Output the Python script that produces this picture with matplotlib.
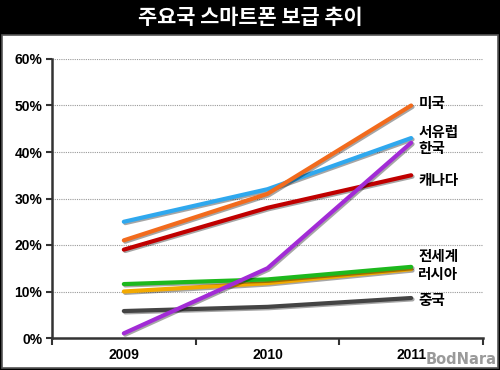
import matplotlib
matplotlib.use("Agg")
import matplotlib.pyplot as plt
import matplotlib.patheffects as pe
from matplotlib.patches import Rectangle

years = ["2009", "2010", "2011"]
series_names = ["미국", "서유럽", "한국", "캐나다", "전세계", "러시아", "중국"]
usa = [21, 31, 50]
west_europe = [25, 32, 43]
korea = [1, 15, 42]
canada = [19, 28, 35]
world = [11.6, 12.6, 15.3]
russia = [10, 11.8, 14.8]
china = [5.8, 6.7, 8.6]
colors = ["#F26B1D", "#2FA8EE", "#A22BD6", "#C00000", "#1DB81D", "#F2A900", "#444444"]
label_y = [50.5, 44.3, 40.9, 34.0, 17.6, 13.8, 8.2]
y_ticks = [0, 10, 20, 30, 40, 50, 60]
y_labels = ["0%", "10%", "20%", "30%", "40%", "50%", "60%"]
title = "주요국 스마트폰 보급 추이"

values = [usa, west_europe, korea, canada, world, russia, china]
kfont = ["Noto Sans CJK KR", "DejaVu Sans"]

W, H = 500, 370
fig = plt.figure(figsize=(W / 100, H / 100), dpi=100, facecolor="black")

# white panel
fig.patches.append(Rectangle((1.5 / W, 2 / H), 496 / W, 333 / H, transform=fig.transFigure,
                             facecolor="white", edgecolor="#555555", linewidth=1.2, zorder=-5))
fig.text(0.5, 1 - 17 / H, title, ha="center", va="center", color="white",
         fontsize=15, fontweight="bold", family=kfont)

ax = fig.add_axes([52 / W, 1 - 338 / H, 431 / W, 279 / H])
ax.set_zorder(2)
ax.set_facecolor("none")
x = list(range(len(years)))
# draw order: back to front
order = [6, 5, 4, 3, 1, 0, 2]
for i in order:
    ax.plot(x, values[i], color=colors[i], linewidth=3.0, solid_capstyle="round", zorder=3,
            path_effects=[pe.SimpleLineShadow(offset=(1, -1), shadow_color="black", alpha=0.35),
                          pe.Normal()])
for i, name in enumerate(series_names):
    ax.text(2.05, label_y[i], name, ha="left", va="center", fontsize=10.5,
            fontweight="bold", family=kfont, color="black")

ax.set_xlim(-0.5, 2.5)
ax.set_ylim(0, 60)
ax.set_yticks(y_ticks)
ax.set_yticklabels(y_labels)
ax.set_xticks([-0.5, 0.5, 1.5, 2.5])
ax.set_xticklabels([])
ax.set_xticks(x, minor=True)
ax.set_xticklabels(years, minor=True)
ax.tick_params(axis="x", which="minor", length=0, pad=7)
ax.tick_params(axis="x", which="major", length=5, width=1.5, color="#333333", direction="out")
ax.tick_params(axis="y", length=4, width=1.5, color="#333333", pad=3)
for lab in ax.get_yticklabels() + ax.get_xticklabels(minor=True):
    lab.set_fontfamily("Liberation Sans")
    lab.set_fontweight("bold")
    lab.set_fontsize(10)
for yv in y_ticks[1:]:
    ax.axhline(yv, color="#999999", linestyle=(0, (1, 1)), linewidth=0.8, zorder=1)
for s in ["top", "right"]:
    ax.spines[s].set_visible(False)
for s in ["left", "bottom"]:
    ax.spines[s].set_color("#333333")
    ax.spines[s].set_linewidth(1.8)

fig.text(497 / W, 3 / H, "BodNara", ha="right", va="bottom", color="#9a9a9a",
         fontsize=10.5, fontweight="bold", family="DejaVu Sans")

fig.savefig("out.png", dpi=100, facecolor="black")
